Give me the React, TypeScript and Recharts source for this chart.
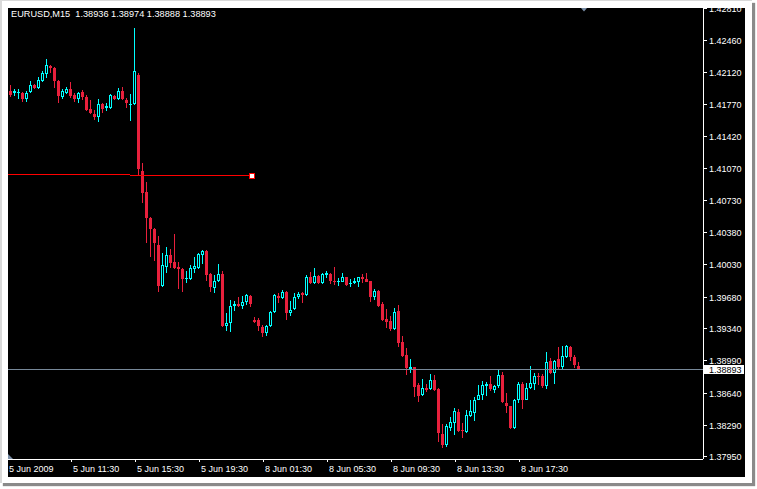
import { ComposedChart, Bar, XAxis, YAxis, ReferenceLine, ReferenceDot } from 'recharts';

// M15 bars, oldest first (5 Jun 07:30 -> 8 Jun 19:15)
const OPEN = [
  1.4197, 1.4191, 1.4189, 1.4189, 1.4189, 1.4183, 1.419, 1.4198, 1.4195, 1.4202, 1.421, 1.4218, 1.4216, 1.4202, 1.4185, 1.4189,
  1.4194, 1.4187, 1.4183, 1.419, 1.4185, 1.4172, 1.4166, 1.4163, 1.4177, 1.4173, 1.4173, 1.4186, 1.4183, 1.4191, 1.4182, 1.4176,
  1.4177, 1.4209, 1.4105, 1.4082, 1.4054, 1.4042, 1.4024, 1.398, 1.4001, 1.4014, 1.4006, 1.4001, 1.3999, 1.3988, 1.3988, 1.3998,
  1.4, 1.4014, 1.4018, 1.3993, 1.3978, 1.3985, 1.3993, 1.3937, 1.394, 1.3958, 1.3961, 1.3958, 1.3963, 1.3969, 1.3943, 1.3943,
  1.3936, 1.3929, 1.3937, 1.3952, 1.3969, 1.3967, 1.3973, 1.3951, 1.3955, 1.3968, 1.3972, 1.397, 1.399, 1.3983, 1.3991, 1.3983,
  1.3992, 1.3993, 1.3986, 1.3985, 1.3984, 1.399, 1.3982, 1.3983, 1.3984, 1.399, 1.3988, 1.3985, 1.3968, 1.3975, 1.396, 1.3944,
  1.3942, 1.3933, 1.3953, 1.3919, 1.3905, 1.389, 1.3892, 1.3873, 1.3862, 1.3869, 1.3868, 1.3878, 1.3868, 1.382, 1.3808, 1.3826,
  1.3831, 1.3843, 1.3824, 1.3822, 1.3839, 1.3842, 1.3857, 1.3862, 1.3872, 1.3874, 1.3867, 1.3872, 1.3884, 1.3853, 1.385, 1.3826,
  1.3857, 1.3874, 1.3857, 1.3869, 1.3874, 1.3883, 1.3882, 1.3872, 1.3899, 1.3886, 1.3901, 1.3892, 1.3903, 1.3914, 1.3903, 1.38936,
];
const HIGH = [
  1.4199, 1.4198, 1.4194, 1.4194, 1.419, 1.4191, 1.4202, 1.4199, 1.4207, 1.4213, 1.4226, 1.422, 1.4217, 1.4203, 1.4194, 1.4196,
  1.4201, 1.4189, 1.419, 1.4192, 1.4187, 1.4182, 1.4171, 1.4183, 1.4178, 1.4178, 1.4188, 1.4187, 1.4195, 1.4196, 1.4184, 1.4188,
  1.426, 1.4211, 1.4113, 1.4093, 1.4055, 1.4043, 1.4034, 1.4016, 1.4022, 1.402, 1.4036, 1.4006, 1.4, 1.3996, 1.4003, 1.4011,
  1.4016, 1.4019, 1.4019, 1.3994, 1.3992, 1.4004, 1.3996, 1.3951, 1.3965, 1.3964, 1.3968, 1.3969, 1.3971, 1.397, 1.3946, 1.3945,
  1.3938, 1.3938, 1.3953, 1.3971, 1.3972, 1.3976, 1.3975, 1.3964, 1.3972, 1.3973, 1.3973, 1.3992, 1.3995, 1.4, 1.3992, 1.3994,
  1.3996, 1.3994, 1.4001, 1.3989, 1.3994, 1.399, 1.3988, 1.3989, 1.399, 1.3993, 1.3994, 1.3986, 1.3977, 1.3976, 1.3963, 1.3955,
  1.3947, 1.3956, 1.3959, 1.3926, 1.3913, 1.3901, 1.3892, 1.3875, 1.3879, 1.3874, 1.3885, 1.3884, 1.3869, 1.383, 1.383, 1.3838,
  1.3848, 1.3847, 1.3832, 1.3846, 1.3857, 1.386, 1.3873, 1.3877, 1.3876, 1.3882, 1.3873, 1.389, 1.3887, 1.3864, 1.385, 1.3858,
  1.3876, 1.3876, 1.3875, 1.3893, 1.3886, 1.3886, 1.3885, 1.3908, 1.3902, 1.39, 1.3914, 1.3915, 1.3916, 1.3915, 1.3905, 1.38974,
];
const LOW = [
  1.4187, 1.4185, 1.4186, 1.4183, 1.4179, 1.418, 1.4189, 1.4194, 1.4194, 1.4201, 1.4205, 1.4211, 1.4195, 1.4178, 1.4183, 1.4188,
  1.4184, 1.418, 1.4178, 1.4182, 1.417, 1.4166, 1.416, 1.4158, 1.4168, 1.417, 1.4172, 1.4182, 1.4182, 1.4182, 1.4173, 1.4159,
  1.4176, 1.41, 1.407, 1.4027, 1.4012, 1.4007, 1.3973, 1.3979, 1.3994, 1.4, 1.3999, 1.3977, 1.3973, 1.3983, 1.3987, 1.3994,
  1.3999, 1.4004, 1.3986, 1.3973, 1.3972, 1.3984, 1.3936, 1.3931, 1.393, 1.3953, 1.3957, 1.3955, 1.3959, 1.3957, 1.394, 1.3931,
  1.3925, 1.3926, 1.3936, 1.3951, 1.3962, 1.3966, 1.3943, 1.3947, 1.3954, 1.3966, 1.3962, 1.3969, 1.3982, 1.3982, 1.3982, 1.3982,
  1.3989, 1.3982, 1.3981, 1.398, 1.3984, 1.398, 1.3979, 1.3982, 1.3979, 1.3983, 1.3984, 1.3963, 1.3965, 1.3957, 1.3942, 1.3935,
  1.3931, 1.3932, 1.3914, 1.3903, 1.3884, 1.3886, 1.386, 1.3854, 1.3861, 1.3865, 1.3867, 1.3866, 1.3811, 1.3804, 1.3806, 1.3823,
  1.3818, 1.3822, 1.3815, 1.3821, 1.3838, 1.3834, 1.3856, 1.3857, 1.3861, 1.3866, 1.3864, 1.387, 1.3853, 1.3842, 1.3825, 1.3825,
  1.3853, 1.3847, 1.3856, 1.3868, 1.3867, 1.3873, 1.387, 1.3868, 1.3885, 1.3874, 1.389, 1.389, 1.3902, 1.3899, 1.3891, 1.38888,
];
const CLOSE = [
  1.4189, 1.4187, 1.4191, 1.419, 1.4183, 1.4189, 1.4198, 1.4195, 1.4203, 1.4211, 1.422, 1.4216, 1.4202, 1.4186, 1.4191, 1.4194,
  1.4186, 1.4183, 1.4189, 1.4185, 1.4171, 1.4168, 1.4163, 1.4177, 1.4172, 1.4175, 1.4187, 1.4183, 1.4191, 1.4183, 1.4178, 1.4177,
  1.4213, 1.4107, 1.4081, 1.4054, 1.4042, 1.4027, 1.398, 1.4003, 1.4014, 1.4005, 1.4, 1.3998, 1.3988, 1.3989, 1.4, 1.4002,
  1.4015, 1.4018, 1.3992, 1.3979, 1.3986, 1.3993, 1.3937, 1.394, 1.3958, 1.3961, 1.3958, 1.3963, 1.397, 1.3961, 1.3941, 1.3937,
  1.3929, 1.3937, 1.3952, 1.397, 1.3967, 1.3973, 1.3951, 1.3954, 1.3968, 1.3971, 1.397, 1.399, 1.3983, 1.3991, 1.3983, 1.3993,
  1.3994, 1.3985, 1.3985, 1.3986, 1.399, 1.3981, 1.3983, 1.3985, 1.399, 1.3988, 1.3984, 1.3968, 1.3975, 1.3958, 1.3943, 1.3941,
  1.3933, 1.3952, 1.3918, 1.3904, 1.3891, 1.3892, 1.3871, 1.3861, 1.3869, 1.3867, 1.3878, 1.3867, 1.3821, 1.3808, 1.3828, 1.3833,
  1.3844, 1.3823, 1.3823, 1.384, 1.3844, 1.3857, 1.3862, 1.3873, 1.3874, 1.3868, 1.3872, 1.3884, 1.3854, 1.385, 1.3826, 1.3857,
  1.3874, 1.3857, 1.3869, 1.3875, 1.3882, 1.3881, 1.3872, 1.3898, 1.3886, 1.3899, 1.3892, 1.3904, 1.3915, 1.3903, 1.3894, 1.38893,
];

const TIME_LABELS = [
  '5 Jun 2009', '5 Jun 11:30', '5 Jun 15:30', '5 Jun 19:30', '8 Jun 01:30',
  '8 Jun 05:30', '8 Jun 09:30', '8 Jun 13:30', '8 Jun 17:30',
];
const BARS_PER_LABEL = 16;
const PRICE_TICKS = [
  1.4281, 1.4246, 1.4212, 1.4177, 1.4142, 1.4107, 1.4073, 1.4038,
  1.4003, 1.3968, 1.3934, 1.3899, 1.3864, 1.3829, 1.3795,
];

const SYMBOL = 'EURUSD,M15';
const BID = 1.38893;
const TREND_LEVEL = 1.4100;
const Y_MIN = 1.37925;
const Y_MAX = 1.42814;

const UP = '#00ffff';
const DOWN = '#e8203c';
const MARKER = '#7a8ea6';
const FONT = '"Liberation Sans", Arial, sans-serif';

const data = OPEN.map((open, i) => ({
  i,
  open,
  high: HIGH[i],
  low: LOW[i],
  close: CLOSE[i],
}));

const Candle = (props: any) => {
  const { x, y, width, height, payload } = props;
  const { open, high, low, close } = payload;
  const top0 = Math.min(y, y + height);
  const h = Math.abs(height);
  const span = high - low || 1;
  const toY = (v: number) => top0 + ((high - v) / span) * h;
  const cx = Math.floor(x + width / 2);
  const up = close >= open;
  const col = up ? UP : DOWN;
  const wt = Math.round(top0);
  const wb = Math.max(Math.round(top0 + h), wt + 1);
  const bt = Math.round(toY(Math.max(open, close)));
  const bb = Math.max(Math.round(toY(Math.min(open, close))), bt + 1);
  return (
    <g>
      <rect x={cx} y={wt} width={1} height={wb - wt} fill={col} />
      <rect x={cx - 1} y={bt} width={3} height={bb - bt} fill={col} />
      {up && bb - bt > 2 && <rect x={cx} y={bt + 1} width={1} height={bb - bt - 2} fill="#000" />}
    </g>
  );
};

const TimeTick = (props: any) => {
  const { x, y, payload } = props;
  const label = TIME_LABELS[Math.round(payload.value / BARS_PER_LABEL)];
  return (
    <text x={x + 2} y={y + 10} fill="#fff" fontSize={9} fontFamily={FONT}>
      {label}
    </text>
  );
};

const PriceTick = (props: any) => {
  const { x, y, payload } = props;
  return (
    <g>
      <line x1={x + 1} x2={x + 4} y1={y} y2={y} stroke="#fff" />
      <text x={x + 6} y={y + 3.5} fill="#fff" fontSize={9} fontFamily={FONT}>
        {payload.value.toFixed(5)}
      </text>
    </g>
  );
};

const BidTag = (props: any) => {
  const vb = props.viewBox || {};
  const x0 = vb.x + vb.width + 1;
  const y0 = vb.y;
  return (
    <g>
      <rect x={x0} y={y0 - 4.5} width={40} height={9} fill="#fff" />
      <text x={x0 + 5} y={y0 + 3.5} fill="#000" fontSize={9} fontFamily={FONT}>
        {BID.toFixed(5)}
      </text>
    </g>
  );
};

export default function App() {
  return (
    <div style={{ position: 'absolute', left: 0, top: 0, width: 757, height: 489, background: '#fff' }}>
      <style>{'.mt svg line, .mt svg rect, .mt svg path { shape-rendering: crispEdges; }'}</style>
      <div
        style={{
          position: 'absolute', left: 0, top: 0, width: 752, height: 483, boxSizing: 'border-box',
          borderLeft: '2px solid #d9d9d9', borderTop: '1px solid #d9d9d9', background: '#fff',
          boxShadow: '3px 3px 1px #8a8a8a',
        }}
      />
      <div className="mt" style={{ position: 'absolute', left: 8, top: 8, width: 737, height: 469, background: '#000' }}>
        <ComposedChart width={737} height={469} data={data} margin={{ top: 0, right: 0, bottom: 0, left: 0 }}>
          <XAxis
            type="number"
            dataKey="i"
            domain={[0.25, 174]}
            allowDataOverflow
            ticks={TIME_LABELS.map((_, k) => k * BARS_PER_LABEL)}
            interval={0}
            height={18}
            axisLine={{ stroke: '#fff' }}
            tickLine={{ stroke: '#fff' }}
            tickSize={3}
            tickMargin={0}
            tick={<TimeTick />}
          />
          <YAxis
            orientation="right"
            type="number"
            domain={[Y_MIN, Y_MAX]}
            allowDataOverflow
            ticks={PRICE_TICKS}
            interval={0}
            width={42}
            axisLine={{ stroke: '#fff' }}
            tickLine={false}
            tickSize={0}
            tickMargin={0}
            tick={<PriceTick />}
          />
          <ReferenceLine y={BID} stroke="#778899" label={<BidTag />} />
          <ReferenceLine
            segment={[{ x: 0.25, y: TREND_LEVEL + 0.0001 }, { x: 30.75, y: TREND_LEVEL + 0.0001 }]}
            stroke="#ff0000"
            strokeWidth={1.5}
          />
          <ReferenceLine
            segment={[{ x: 30.75, y: TREND_LEVEL }, { x: 61, y: TREND_LEVEL }]}
            stroke="#ff0000"
          />
          <Bar
            dataKey={(d: any) => [d.low, d.high]}
            barSize={3}
            shape={<Candle />}
            isAnimationActive={false}
          />
          <ReferenceDot
            x={61}
            y={TREND_LEVEL}
            r={2}
            shape={(p: any) => (
              <rect x={Math.round(p.cx) - 2} y={Math.round(p.cy) - 2} width={5} height={5} fill="#fff" stroke="#ff0000" />
            )}
          />
          <ReferenceDot
            x={144.25}
            y={Y_MAX}
            r={3}
            ifOverflow="visible"
            shape={(p: any) => (
              <polygon points={`${p.cx - 3},${p.cy} ${p.cx + 3},${p.cy} ${p.cx},${p.cy + 3.5}`} fill={MARKER} />
            )}
          />
          <ReferenceDot
            x={0.25}
            y={Y_MIN}
            r={3}
            ifOverflow="visible"
            shape={(p: any) => (
              <polygon points={`${p.cx},${p.cy - 5} ${p.cx},${p.cy} ${p.cx + 5},${p.cy}`} fill={MARKER} />
            )}
          />
        </ComposedChart>
        <svg width={300} height={20} style={{ position: 'absolute', left: 0, top: 0 }}>
          <text x={3} y={9} fill="#fff" fontSize={9.2} fontFamily={FONT} style={{ whiteSpace: 'pre' }}>
            {`${SYMBOL}  ${OPEN[OPEN.length - 1].toFixed(5)} ${HIGH[HIGH.length - 1].toFixed(5)} ${LOW[LOW.length - 1].toFixed(5)} ${CLOSE[CLOSE.length - 1].toFixed(5)}`}
          </text>
        </svg>
      </div>
    </div>
  );
}
